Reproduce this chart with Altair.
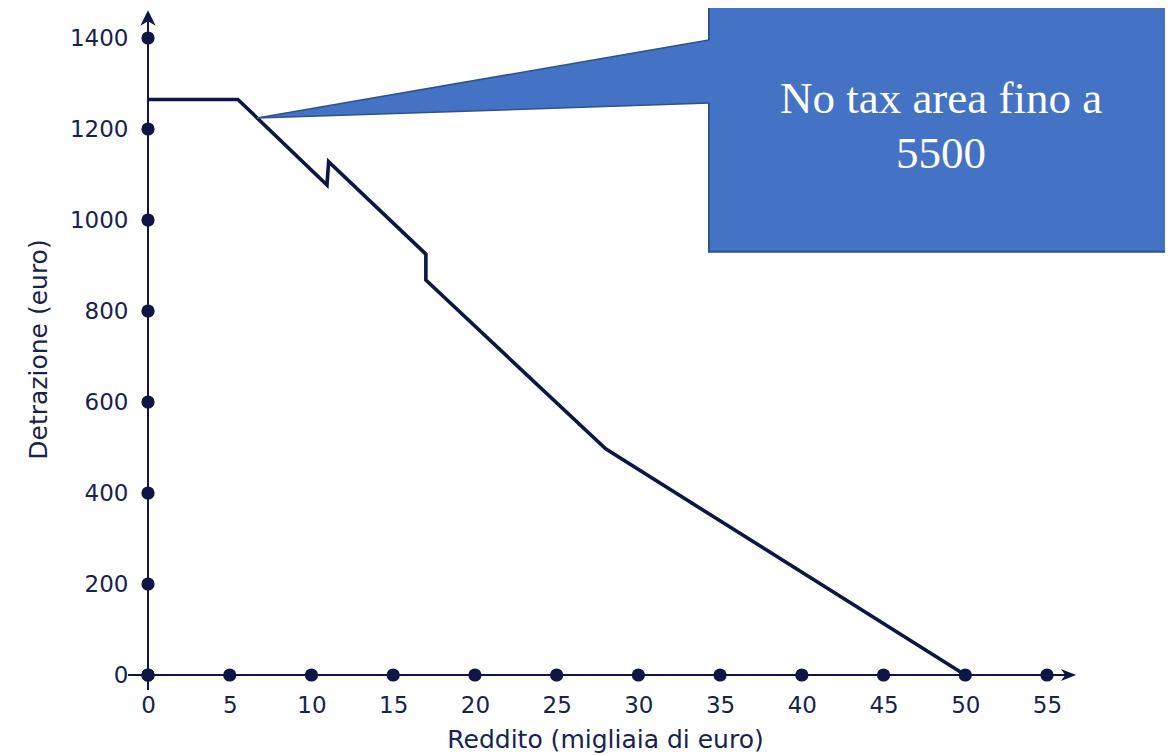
import altair as alt
import pandas as pd

# ---- data ----
reddito = [0, 5.5, 10.95, 11.05, 17, 17, 28, 50]          # migliaia di euro
detrazione = [1265, 1265, 1077, 1128, 925, 868, 497, 0]   # euro

x_ticks = [0, 5, 10, 15, 20, 25, 30, 35, 40, 45, 50, 55]
y_ticks = [0, 200, 400, 600, 800, 1000, 1200, 1400]

x_title = "Reddito (migliaia di euro)"
y_title = "Detrazione (euro)"
callout_lines = ["No tax area fino a", "5500"]

# ---- decoration geometry (in data units) ----
x_axis_ext = [-1.22, 56.2]
y_axis_ext = [-33, 1440]
x_arrow = [56.29, 0]
y_arrow = [0, 1443]
box_x = [34.32, 64]
box_y = [930, 1520]
pointer_tip = [6.67, 1224]
pointer_upper = [34.32, 1395.6]
pointer_lower = [34.32, 1257]
text_x = 48.52
text_y = [1235, 1114]

NAVY = "#0d1644"
TEXT = "#17224f"
BLUE = "#4472C4"
BORDER = "#2F528F"

xs = alt.Scale(domain=[0, 55], nice=False, zero=False)
ys = alt.Scale(domain=[0, 1400], nice=False, zero=False)

x_axis = alt.Axis(
    values=x_ticks, title=x_title, format="d", domain=False, ticks=False, tickSize=0, grid=False,
    labelFont="DejaVu Sans", labelFontSize=23, labelColor=TEXT, labelPadding=37,
    labelBaseline="alphabetic", labelOverlap=False, labelFlush=False, labelBound=False,
    titleFont="DejaVu Sans", titleFontSize=25, titleFontWeight="normal", titleColor=TEXT,
    titleX=457, titleY=72, titleBaseline="alphabetic", titleAlign="center",
)
y_axis = alt.Axis(
    values=y_ticks, title=y_title, format="d", domain=False, ticks=False, tickSize=0, grid=False,
    labelFont="DejaVu Sans", labelFontSize=23, labelColor=TEXT, labelPadding=20,
    labelOverlap=False, labelFlush=False, labelBound=False,
    titleFont="DejaVu Sans", titleFontSize=25, titleFontWeight="normal", titleColor=TEXT,
    titleX=-110, titleY=311, titleAngle=-90, titleBaseline="middle", titleAlign="center",
)


def X(field="x"):
    return alt.X(f"{field}:Q", scale=xs, axis=x_axis)


def Y(field="y"):
    return alt.Y(f"{field}:Q", scale=ys, axis=y_axis)


# axis lines
df_rules = pd.DataFrame({
    "x": [x_axis_ext[0], 0], "x2": [x_axis_ext[1], 0],
    "y": [0, y_axis_ext[0]], "y2": [0, y_axis_ext[1]],
})
rules = alt.Chart(df_rules).mark_rule(color=NAVY, strokeWidth=2).encode(
    x=X(), x2="x2:Q", y=Y(), y2="y2:Q",
)

# tick dots
df_dots = pd.DataFrame({
    "x": x_ticks + [0] * len(y_ticks),
    "y": [0] * len(x_ticks) + y_ticks,
})
dots = alt.Chart(df_dots).mark_circle(color=NAVY, size=175, opacity=1).encode(x=X(), y=Y())

# arrow heads
up_shape = "M0,-1L0.95,0.9L0,0.35L-0.95,0.9Z"
right_shape = "M1,0L-0.9,0.75L-0.35,0L-0.9,-0.75Z"
arrow_up = alt.Chart(pd.DataFrame({"x": [y_arrow[0]], "y": [y_arrow[1]]})).mark_point(
    shape=up_shape, filled=True, color=NAVY, size=260, opacity=1
).encode(x=X(), y=Y())
arrow_right = alt.Chart(pd.DataFrame({"x": [x_arrow[0]], "y": [x_arrow[1]]})).mark_point(
    shape=right_shape, filled=True, color=NAVY, size=260, opacity=1
).encode(x=X(), y=Y())

# data line
df_line = pd.DataFrame({"x": reddito, "y": detrazione, "i": list(range(len(reddito)))})
line = alt.Chart(df_line).mark_line(color=NAVY, strokeWidth=3.6, strokeJoin="miter").encode(
    x=X(), y=Y(), order="i:Q",
)

# callout box
box = alt.Chart(pd.DataFrame({"x": [box_x[0]], "x2": [box_x[1]], "y": [box_y[0]], "y2": [box_y[1]]})).mark_rect(
    fill=BLUE, stroke=BORDER, strokeWidth=2
).encode(x=X(), x2="x2:Q", y=Y(), y2="y2:Q")

# pointer triangle (filled), slightly extended into the box to hide the border
ext = 0.25
su = (pointer_upper[1] - pointer_tip[1]) / (pointer_upper[0] - pointer_tip[0])
sl = (pointer_lower[1] - pointer_tip[1]) / (pointer_lower[0] - pointer_tip[0])
df_tri = pd.DataFrame({
    "x": [pointer_tip[0], pointer_upper[0] + ext],
    "y": [pointer_tip[1], pointer_upper[1] + su * ext],
    "y2": [pointer_tip[1], pointer_lower[1] + sl * ext],
})
tri = alt.Chart(df_tri).mark_area(fill=BLUE, opacity=1).encode(x=X(), y=Y(), y2="y2:Q")
df_edges = pd.DataFrame({
    "x": [pointer_tip[0], pointer_tip[0]],
    "x2": [pointer_upper[0], pointer_lower[0]],
    "y": [pointer_tip[1], pointer_tip[1]],
    "y2": [pointer_upper[1], pointer_lower[1]],
})
edges = alt.Chart(df_edges).mark_rule(color=BORDER, strokeWidth=1.5).encode(
    x=X(), x2="x2:Q", y=Y(), y2="y2:Q",
)

# callout text
df_text = pd.DataFrame({"x": [text_x, text_x], "y": text_y, "t": callout_lines})
txt = alt.Chart(df_text).mark_text(
    font="Liberation Serif", fontSize=45, color="white", align="center", baseline="alphabetic"
).encode(x=X(), y=Y(), text="t:N")

chart = alt.layer(rules, line, dots, arrow_up, arrow_right, box, tri, edges, txt).properties(
    width=899, height=637,
    autosize=alt.AutoSizeParams(type="none"),
    padding={"left": 140, "top": 30, "right": 118, "bottom": 80},
    background="white",
).configure_view(stroke=None)

chart.save("out.html", embed_options={"renderer": "svg", "actions": False})
